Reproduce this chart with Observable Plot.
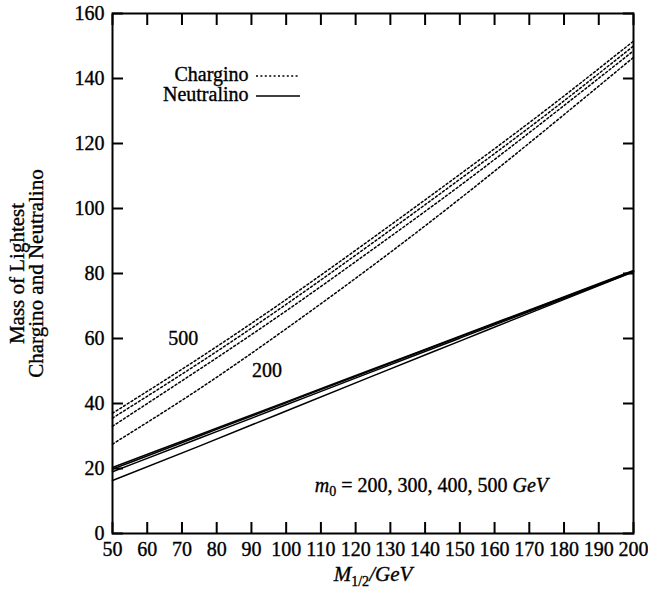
<!DOCTYPE html>
<html><head><meta charset="utf-8">
<script src="https://cdn.jsdelivr.net/npm/d3@7"></script>
<script src="https://cdn.jsdelivr.net/npm/@observablehq/plot@0.6"></script>
<style>
body{margin:0;background:#fff;}
#chart{width:648px;height:597px;}
#chart svg, #chart svg text{font-family:"Liberation Serif","DejaVu Serif",serif !important;}
#chart svg text{stroke:#000;stroke-width:0.35px;}
</style></head><body><div id="chart"></div>
<script>
// ---- data ----
const M12 = [50, 75, 100, 125, 150, 175, 200];
const m0List = [200, 300, 400, 500];
const chargino200 = [27.5, 44.5, 63.0, 82.5, 103.0, 124.5, 146.5];
const chargino300 = [33.0, 50.5, 68.5, 87.5, 107.0, 127.5, 148.5];
const chargino400 = [35.5, 52.5, 70.5, 89.5, 109.0, 129.0, 150.0];
const chargino500 = [37.0, 54.0, 72.0, 91.0, 110.5, 130.5, 151.5];
const neutralino200 = [16.3, 26.9, 37.7, 48.5, 59.2, 69.9, 80.5];
const neutralino300 = [19.0, 29.3, 39.6, 49.9, 60.1, 70.3, 80.6];
const neutralino400 = [19.8, 30.0, 40.2, 50.4, 60.5, 70.6, 80.7];
const neutralino500 = [20.3, 30.4, 40.5, 50.6, 60.7, 70.8, 80.9];
const xTicks = [50,60,70,80,90,100,110,120,130,140,150,160,170,180,190,200];
const yTicks = [0,20,40,60,80,100,120,140,160];
const curveLabels = [{M: 70.4, mass: 60, text: "500"}, {M: 94.5, mass: 50, text: "200"}];
const noteLabel = [{M: 141.8, mass: 14.8, text: "m0 = 200, 300, 400, 500 GeV"}];

const charginoSets = [chargino200, chargino300, chargino400, chargino500];
const neutralinoSets = [neutralino200, neutralino300, neutralino400, neutralino500];
const toRows = (sets) => sets.flatMap((vals, i) => vals.map((v, j) => ({M: M12[j], mass: v, m0: m0List[i]})));
const charginoRows = toRows(charginoSets);
const neutralinoRows = toRows(neutralinoSets);

const mL = 112, mR = 15, mT = 13, mB = 64;

const chart = Plot.plot({
  width: 648, height: 597,
  marginLeft: mL, marginRight: mR, marginTop: mT, marginBottom: mB,
  style: {fontSize: "20px", color: "#000", background: "#fff"},
  x: {domain: [50, 200]},
  y: {domain: [0, 160]},
  marks: [
    Plot.line(charginoRows, {x: "M", y: "mass", z: "m0", curve: "natural", stroke: "#000", strokeWidth: 1.5, strokeDasharray: "2,2.4"}),
    Plot.line(neutralinoRows, {x: "M", y: "mass", z: "m0", curve: "natural", stroke: "#000", strokeWidth: 1.5}),
    Plot.axisX(xTicks, {anchor: "bottom", tickSize: -11, tickPadding: 19, strokeWidth: 2, label: null, fontSize: 20}),
    Plot.axisX(xTicks, {anchor: "top", tickSize: -11, strokeWidth: 2, label: null, tickFormat: () => ""}),
    Plot.axisY(yTicks, {anchor: "left", tickSize: -11, tickPadding: 19, strokeWidth: 2, label: null, fontSize: 20}),
    Plot.axisY(yTicks, {anchor: "right", tickSize: -11, strokeWidth: 2, label: null, tickFormat: () => ""}),
    Plot.frame({stroke: "#000", strokeWidth: 2}),
    Plot.text(curveLabels, {x: "M", y: "mass", text: "text", fontSize: 20}),
    Plot.text(noteLabel, {x: "M", y: "mass", text: "text", fontSize: 20, className: "note"}),
    Plot.text(["Chargino"], {frameAnchor: "top-left", dx: 136, dy: 53, textAnchor: "end", fontSize: 20}),
    Plot.text(["Neutralino"], {frameAnchor: "top-left", dx: 136, dy: 73, textAnchor: "end", fontSize: 20}),
    Plot.text(["M1/2/GeV"], {frameAnchor: "bottom", dy: 47, fontSize: 21, className: "xlab"}),
    Plot.text(["Mass of Lightest\nChargino and Neutralino"], {frameAnchor: "left", dx: -85, rotate: -90, textAnchor: "middle", fontSize: 21, lineHeight: 0.9})
  ]
});
document.getElementById("chart").appendChild(chart);

// rich text for math annotations
const svg = d3.select(chart);
svg.select("g.note text").html('<tspan font-style="italic">m</tspan><tspan font-size="14" dy="4">0</tspan><tspan dy="-4"> = 200, 300, 400, 500 </tspan><tspan font-style="italic">GeV</tspan>');
svg.select("g.xlab text").html('<tspan font-style="italic">M</tspan><tspan font-size="14" dy="5">1/2</tspan><tspan dy="-5" font-style="italic">/GeV</tspan>');

// legend samples
const lg = svg.append("g").attr("stroke", "#000");
lg.append("line").attr("x1", mL + 144).attr("x2", mL + 188).attr("y1", mT + 63).attr("y2", mT + 63).attr("stroke-width", 1.5).attr("stroke-dasharray", "2,2.4");
lg.append("line").attr("x1", mL + 144).attr("x2", mL + 188).attr("y1", mT + 83).attr("y2", mT + 83).attr("stroke-width", 1.6);
</script></body></html>
